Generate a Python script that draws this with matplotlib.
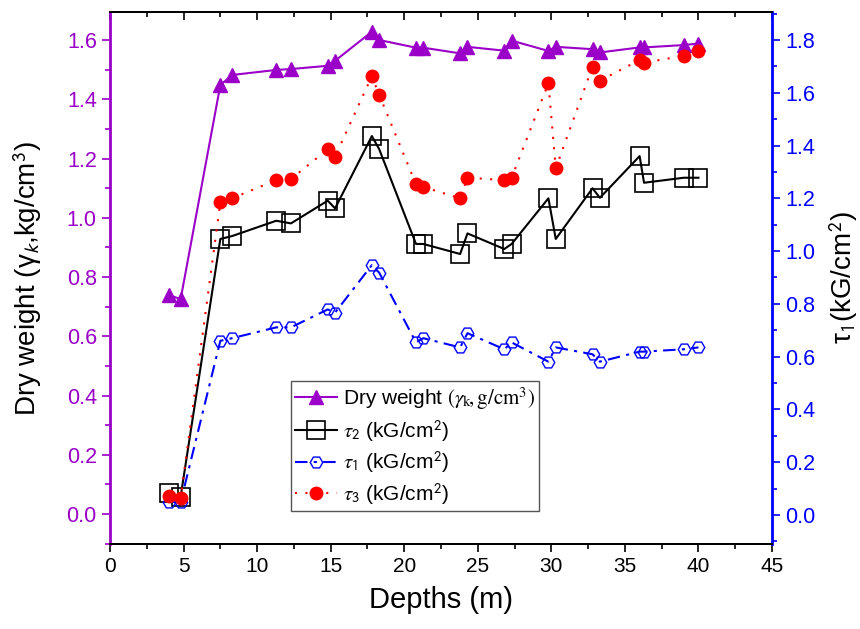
import matplotlib.pyplot as plt
from matplotlib.ticker import MultipleLocator

plt.rcParams['font.family'] = ['Arial', 'Liberation Sans', 'DejaVu Sans']
plt.rcParams['mathtext.fontset'] = 'stix'

# Depth of each sample (m)
depths = [4.0, 4.8, 7.5, 8.3, 11.3, 12.3, 14.8, 15.3, 17.8, 18.3, 20.8, 21.3,
          23.8, 24.3, 26.8, 27.3, 29.8, 30.3, 32.8, 33.3, 36.0, 36.3, 39.0, 40.0]

# Dry weight (left axis)
dry_weight = [0.74, 0.725, 1.448, 1.482, 1.499, 1.502, 1.513, 1.530, 1.628, 1.600,
              1.574, 1.574, 1.555, 1.577, 1.564, 1.598, 1.563, 1.577, 1.569, 1.558,
              1.575, 1.575, 1.583, 1.588]

# shear values (right axis)
tau2 = [0.082, 0.069, 1.046, 1.057, 1.115, 1.105, 1.191, 1.162, 1.436, 1.386,
        1.027, 1.027, 0.989, 1.067, 1.008, 1.027, 1.200, 1.046, 1.238, 1.202,
        1.360, 1.259, 1.278, 1.278]
tau1 = [0.050, 0.048, 0.660, 0.670, 0.711, 0.711, 0.779, 0.767, 0.947, 0.918,
        0.654, 0.670, 0.635, 0.689, 0.628, 0.654, 0.581, 0.635, 0.609, 0.581,
        0.619, 0.619, 0.628, 0.635]
tau3 = [0.072, 0.063, 1.185, 1.200, 1.269, 1.273, 1.386, 1.358, 1.663, 1.592,
        1.253, 1.243, 1.200, 1.278, 1.269, 1.278, 1.636, 1.314, 1.699, 1.646,
        1.724, 1.714, 1.740, 1.759]

purple = '#9A00C8'
blue = '#0000FF'
red = '#FF0000'

fig = plt.figure(figsize=(8.6, 6.29), dpi=100)
ax = fig.add_axes([0.1279, 0.1351, 0.7698, 0.8458])
ax2 = ax.twinx()

l0, = ax.plot(depths, dry_weight, color=purple, lw=1.5, marker='^', ms=10,
              label=r'Dry weight $(\gamma_{\mathrm{k}}\!,\mathrm{g/cm}^3)$')
l1, = ax2.plot(depths, tau2, color='black', lw=1.5, marker='s', ms=13,
               mfc='none', mec='black', mew=1.2,
               label=r'$\tau_\mathsf{2}$ (kG/cm$^\mathsf{2}$)')
l2, = ax2.plot(depths, tau1, color=blue, lw=1.5, ls=(0, (6, 3, 1.5, 3)), marker='H',
               ms=9, mfc='none', mec=blue, mew=1.0,
               label=r'$\tau_\mathsf{1}$ (kG/cm$^\mathsf{2}$)')
l3, = ax2.plot(depths, tau3, color=red, lw=1.5, ls=(0, (1, 4)), marker='o', ms=9,
               label=r'$\tau_\mathsf{3}$ (kG/cm$^\mathsf{2}$)')

ax.set_xlim(0, 45)
ax.set_ylim(-0.101, 1.6945)
ax2.set_ylim(-0.11, 1.906)

ax.xaxis.set_major_locator(MultipleLocator(5))
ax.xaxis.set_minor_locator(MultipleLocator(2.5))
ax.yaxis.set_major_locator(MultipleLocator(0.2))
ax.yaxis.set_minor_locator(MultipleLocator(0.1))
ax2.yaxis.set_major_locator(MultipleLocator(0.2))
ax2.yaxis.set_minor_locator(MultipleLocator(0.1))

ax.tick_params(axis='x', which='both', direction='out', top=True, labelsize=15)
ax.tick_params(axis='x', which='major', length=6, width=1.2)
ax.tick_params(axis='x', which='minor', length=3.5, width=1.2)
ax.tick_params(axis='y', which='major', length=6, width=1.2, colors=purple, labelsize=15.5)
ax.tick_params(axis='y', which='minor', length=3.5, width=1.2, colors=purple)
ax2.tick_params(axis='y', which='major', length=6, width=1.2, colors=blue, labelsize=15.5)
ax2.tick_params(axis='y', which='minor', length=3.5, width=1.2, colors=blue)
# top ticks point inwards
for t in ax.xaxis.get_major_ticks() + ax.xaxis.get_minor_ticks():
    t.tick2line.set_marker(3)

for a in (ax, ax2):
    a.spines['top'].set_linewidth(1.4)
    a.spines['bottom'].set_linewidth(1.4)
ax2.spines['left'].set_color(purple)
ax2.spines['left'].set_linewidth(2)
ax2.spines['right'].set_color(blue)
ax2.spines['right'].set_linewidth(2)
ax.spines['left'].set_color(purple)
ax.spines['right'].set_color(blue)

ax.set_xlabel('Depths (m)', fontsize=21, labelpad=7)
ax.set_ylabel(r'Dry weight (γ$_\mathsf{k}$,kg/cm$^\mathsf{3}$)', fontsize=20)
ax.yaxis.set_label_coords(-0.1, 0.5)
ax2.set_ylabel(r'τ$_\mathsf{1}$(kG/cm$^\mathsf{2}$)', fontsize=20)
ax2.yaxis.set_label_coords(1.083, 0.5)

leg = ax2.legend(handles=[l0, l1, l2, l3], loc='lower left',
                 bbox_to_anchor=(0.273, 0.062), fontsize=15, frameon=True,
                 fancybox=False, edgecolor='#555555', framealpha=1,
                 handlelength=2.0, handletextpad=0.3, borderpad=0.2,
                 labelspacing=0.3, borderaxespad=0)
leg.get_frame().set_linewidth(1.0)

fig.savefig('out.png', dpi=100)
